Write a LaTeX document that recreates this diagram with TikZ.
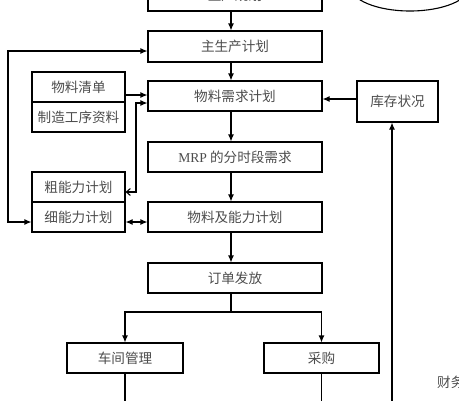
\documentclass[tikz,border=0pt]{standalone}
\usepackage{fontspec}
\setmainfont{Liberation Serif}
\newfontfamily\cjk{Noto Sans CJK SC}
\newfontfamily\lat{Liberation Serif}
\usetikzlibrary{arrows.meta,calc}
\begin{document}
\begin{tikzpicture}[x=1pt,y=-1pt,
  box/.style={draw, line width=1.1pt, inner sep=0pt, font=\cjk\fontsize{13.6}{15}\selectfont, text=black!70},
  lbl/.style={font=\cjk\fontsize{13.6}{15}\selectfont, text=black!70, inner sep=0pt},
  arr/.style={line width=1.1pt, -{Latex[length=7pt,width=6pt]}},
  darr/.style={line width=1.1pt, {Latex[length=7pt,width=6pt]}-{Latex[length=7pt,width=6pt]}},
  barr/.style={line width=1.1pt, {Latex[length=7pt,width=6pt]}-{Straight Barb[length=4pt,width=7pt]}},
  ln/.style={line width=1.1pt}]
\useasboundingbox (0,0) rectangle (459,400);

% boxes
\node[box, minimum width=174pt, minimum height=31pt] (top)  at (235,-4.5) {生产规划};
\node[box, minimum width=174pt, minimum height=31pt] (mps)  at (235,46.5) {主生产计划};
\node[box, minimum width=174pt, minimum height=30pt] (mrp)  at (235,96) {物料需求计划};
\node[box, minimum width=174pt, minimum height=30pt] (mrpt) at (235,157) {{\lat MRP} 的分时段需求};
\node[box, minimum width=174pt, minimum height=30pt] (mcp)  at (235,217) {物料及能力计划};
\node[box, minimum width=174pt, minimum height=30pt] (ord)  at (235,278) {订单发放};
\node[box, minimum width=116pt, minimum height=30pt] (shop) at (125,358) {车间管理};
\node[box, minimum width=115pt, minimum height=30pt] (buy)  at (321.5,358) {采购};
\node[box, minimum width=81pt, minimum height=41pt] (inv)   at (397.5,101.5) {库存状况};
\node[box, minimum width=93pt, minimum height=30pt] (bom)   at (78.5,87) {物料清单};
\node[box, minimum width=93pt, minimum height=30pt] (route) at (78.5,117) {制造工序资料};
\node[box, minimum width=93pt, minimum height=30pt] (rccp)  at (78.5,187) {粗能力计划};
\node[box, minimum width=93pt, minimum height=30pt] (crp)   at (78.5,217) {细能力计划};
\draw[ln] (410,-14) ellipse [x radius=60, y radius=25];
\node[lbl, anchor=west] (fin) at (437,382) {财务};

% helper coordinates
\coordinate (vx) at (231,0);
\coordinate (br) at (231,312);
\coordinate (shopend) at (125,410);
\coordinate (buyend) at (321.5,410);
\coordinate (invin) at (392,410);
\coordinate (y99) at (0,99);
\coordinate (y95) at (0,95);
\coordinate (k1) at (136,103);
\coordinate (k2) at (136,192);
\coordinate (y222) at (0,222);
\coordinate (l1) at (8,222);
\coordinate (l2) at (8,51);

% main chain
\draw[arr] (top.south -| vx) -- (mps.north -| vx);
\draw[arr] (mps.south -| vx) -- (mrp.north -| vx);
\draw[arr] (mrp.south -| vx) -- (mrpt.north -| vx);
\draw[arr] (mrpt.south -| vx) -- (mcp.north -| vx);
\draw[arr] (mcp.south -| vx) -- (ord.north -| vx);
\draw[ln] (ord.south -| vx) -- (br);
\draw[arr] (br) -| (shop.north);
\draw[arr] (br) -| (buy.north);
\draw[ln] (shop.south) -- (shopend);
\draw[ln] (buy.south) -- (buyend);

% side connectors
\draw[arr] (invin) -- (inv.south -| invin);
\draw[arr] (inv.west |- y99) -- (mrp.east |- y99);
\draw[arr] (bom.east |- y95) -- (mrp.west |- y95);
\draw[barr] (mrp.west |- k1) -- (k1) -- (k2) -- (rccp.east |- k2);
\draw[darr] (crp.east |- y222) -- (mcp.west |- y222);
\draw[darr] (crp.west |- y222) -- (l1) -- (l2) -- (mps.west |- l2);
\end{tikzpicture}
\end{document}
